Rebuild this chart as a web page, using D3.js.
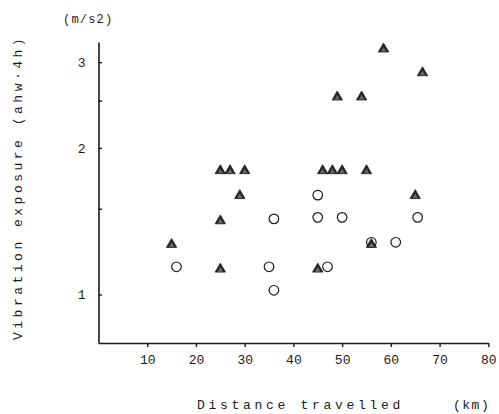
<!DOCTYPE html>
<html>
<head>
<meta charset="utf-8">
<script src="https://cdn.jsdelivr.net/npm/d3@7"></script>
<style>
  html, body { margin: 0; padding: 0; background: #fff; }
  svg { display: block; }
  text { font-family: "Liberation Mono", "DejaVu Sans Mono", monospace; fill: #1a1a1a; }
</style>
</head>
<body>
<svg id="chart" width="499" height="414"></svg>
<script>
// ---- data ----
const triangleX = [15, 25, 25, 25, 27, 29, 30, 45, 46, 48, 50, 49, 54, 55, 56, 58.5, 65, 66.5];
const triangleY = [1.27, 1.13, 1.42, 1.8, 1.8, 1.6, 1.8, 1.13, 1.8, 1.8, 1.8, 2.55, 2.55, 1.8, 1.27, 3.2, 1.6, 2.86];
const circleX = [16, 35, 36, 36, 45, 45, 50, 47, 56, 61, 65.5];
const circleY = [1.14, 1.14, 1.43, 1.02, 1.6, 1.44, 1.44, 1.14, 1.28, 1.28, 1.44];
const xTicks = [10, 20, 30, 40, 50, 60, 70, 80];
const yTicks = [1, 1.5, 2, 2.5, 3];
const yLabels = [1, 2, 3];
const xTitle = "Distance travelled";
const xUnit = "(km)";
const yTitle = "Vibration exposure (ahw\u00b74h)";
const yUnit = "(m/s2)";

// ---- layout ----
const svg = d3.select("#chart");
const x = d3.scaleLinear().domain([0, 80]).range([98.5, 488.3]);
const y = d3.scaleLog().domain([0.795, 3.3]).range([343, 42]);

// x axis
const xAxis = d3.axisBottom(x)
  .tickValues(xTicks)
  .tickSizeInner(4)
  .tickSizeOuter(0)
  .tickPadding(8)
  .tickFormat(d3.format("d"));
const gx = svg.append("g").attr("transform", `translate(0,${y.range()[0]})`).call(xAxis);
gx.select(".domain").attr("stroke", "#1a1a1a").attr("stroke-width", 1.6);
gx.selectAll(".tick line").attr("stroke", "#1a1a1a").attr("stroke-width", 1.4);
gx.selectAll(".tick text")
  .style("font-family", "'Liberation Mono', monospace")
  .style("font-size", "13px")
  .attr("fill", "#1a1a1a");

// y axis
const yAxis = d3.axisLeft(y)
  .tickValues(yTicks)
  .tickSizeInner(-3.5)
  .tickSizeOuter(0)
  .tickPadding(13)
  .tickFormat(d => yLabels.includes(d) ? d3.format("d")(d) : "");
const gy = svg.append("g").attr("transform", `translate(${x.range()[0]},0)`).call(yAxis);
gy.select(".domain").attr("stroke", "#1a1a1a").attr("stroke-width", 1.6);
gy.selectAll(".tick line").attr("stroke", "#1a1a1a").attr("stroke-width", 1.4);
gy.selectAll(".tick text")
  .style("font-family", "'Liberation Mono', monospace")
  .style("font-size", "13px")
  .attr("fill", "#1a1a1a");

// circles (open)
const circles = circleX.map((v, i) => ({ x: v, y: circleY[i] }));
svg.append("g").selectAll("circle").data(circles).join("circle")
  .attr("cx", d => x(d.x))
  .attr("cy", d => y(d.y))
  .attr("r", 4.8)
  .attr("fill", "none")
  .attr("stroke", "#1a1a1a")
  .attr("stroke-width", 1.2);

// triangles (filled)
const tris = triangleX.map((v, i) => ({ x: v, y: triangleY[i] }));
const triOuter = d3.symbol(d3.symbolTriangle, 46)();
const triInner = d3.symbol(d3.symbolTriangle, 12)();
const tg = svg.append("g").selectAll("g").data(tris).join("g")
  .attr("transform", d => `translate(${x(d.x)},${y(d.y) + 0.5})`);
tg.append("path").attr("d", triOuter)
  .attr("fill", "#262626").attr("stroke", "#1a1a1a").attr("stroke-width", 0.8);
tg.append("path").attr("d", triInner)
  .attr("transform", "translate(0,1)")
  .attr("fill", "#6a6a6a");

// titles
svg.append("text")
  .attr("x", 63).attr("y", 23)
  .style("font-size", "12px").style("letter-spacing", "1.2px")
  .text(yUnit);

svg.append("text")
  .attr("x", 197).attr("y", 409)
  .style("font-size", "13px").style("letter-spacing", "3.7px")
  .text(xTitle);
svg.append("text")
  .attr("x", 453).attr("y", 409)
  .style("font-size", "13px").style("letter-spacing", "1.5px")
  .text(xUnit);

svg.append("text")
  .attr("transform", "translate(22,340) rotate(-90)")
  .attr("x", 0).attr("y", 0)
  .style("font-size", "13px").style("letter-spacing", "3.5px")
  .text(yTitle);
</script>
</body>
</html>
